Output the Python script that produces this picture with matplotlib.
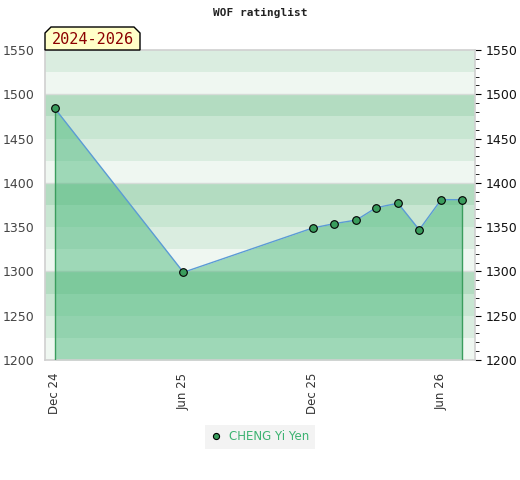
import matplotlib.pyplot as plt
import matplotlib.dates as mdates
from matplotlib.patches import Polygon
from matplotlib.ticker import MultipleLocator
from datetime import datetime

# Rating history (monthly lists)
dates = ['2024-12-01', '2025-06-01', '2025-12-01', '2026-01-01', '2026-02-01',
         '2026-03-01', '2026-04-01', '2026-05-01', '2026-06-01', '2026-07-01']
ratings = [1484, 1299, 1349, 1354, 1358, 1372, 1377, 1347, 1381, 1381]
tick_dates = ['2024-12-01', '2025-06-01', '2025-12-01', '2026-06-01']
player = 'CHENG Yi Yen'
title = 'WOF ratinglist'
period = '2024-2026'

# band colours inside every 100 points, bottom quarter to top quarter
band_colors = ['#eff7f1', '#daede0', '#c8e6d2', '#b3dcc1']

x = [datetime.strptime(d, '%Y-%m-%d') for d in dates]
xt = [datetime.strptime(d, '%Y-%m-%d') for d in tick_dates]

fig = plt.figure(figsize=(5.2, 4.8), dpi=100)
ax = fig.add_axes([45/520, 1-360/480, 430/520, 310/480])

y_min, y_max = 1200, 1550
for lo in range(y_min, y_max, 25):
    ax.axhspan(lo, lo+25, color=band_colors[(lo // 25) % 4], lw=0, zorder=0)
for h in range(1300, y_max, 100):
    ax.axhline(h, color='#d6dcd8', lw=1, zorder=1)

# filled area under the rating line
ax.fill_between(x, ratings, y_min, color='#3cb371', alpha=0.45, lw=0, zorder=2)
ax.vlines([x[0], x[-1]], y_min, [ratings[0], ratings[-1]], color='#3a9d5d', lw=1, zorder=3)
ax.plot(x, ratings, color='#5b9bd5', lw=1.0, zorder=4)
ax.plot(x, ratings, 'o', color='#3a9d5d', mec='black', mew=0.8, ms=5.5, zorder=5,
        label=player)

ax.set_xlim(datetime(2024, 11, 17), datetime(2026, 7, 19))
ax.set_ylim(y_min, y_max)

ax.set_xticks(xt)
ax.xaxis.set_major_formatter(mdates.DateFormatter('%b %y'))
ax.tick_params(axis='x', length=0, rotation=90, labelsize=8.5, labelcolor='#333333', pad=9)

ax.yaxis.set_major_locator(MultipleLocator(50))
ax.yaxis.set_minor_locator(MultipleLocator(10))
ax.tick_params(axis='y', which='both', left=False, right=True, labelleft=True,
               labelright=True, labelsize=9, direction='out')
ax.tick_params(axis='y', which='major', length=4)
ax.tick_params(axis='y', which='minor', length=3)
for lab in ax.yaxis.get_ticklabels():
    lab.set_color('#444444')
for tk in ax.yaxis.get_major_ticks():
    tk.label2.set_color('#111111')

for s in ax.spines.values():
    s.set_color('#d0d0d0')
    s.set_linewidth(1.2)

fig.text(0.5, 1-13/480, title, ha='center', va='center', family='DejaVu Sans Mono',
         fontsize=8, fontweight='bold', color='#222222')

# period label box with cut corners
bx0, bx1, by0, by1, c = 45, 140, 430, 453, 6
pts = [(bx0, by0), (bx1, by0), (bx1, by1-c), (bx1-c, by1), (bx0+c, by1), (bx0, by1-c)]
fig.patches.append(Polygon([(px/520, py/480) for px, py in pts], closed=True,
                           transform=fig.transFigure, facecolor='#ffffc8',
                           edgecolor='black', lw=1, zorder=10))
fig.text((bx0+bx1)/2/520, (by0+by1)/2/480 - 0.002, period, ha='center', va='center',
         family='DejaVu Sans Mono', fontsize=11, color='#8b0000', zorder=11)

leg = fig.legend(loc='center', bbox_to_anchor=(260/520, 1-437/480), frameon=True,
                 fontsize=8.5, handlelength=1, handletextpad=0.6, borderpad=0.45,
                 markerscale=0.8)
leg.get_frame().set_facecolor('#f0f0f0')
leg.get_frame().set_edgecolor('none')
leg.get_frame().set_boxstyle('square', pad=0)
for t in leg.get_texts():
    t.set_color('#3cb371')

fig.savefig('out.png', dpi=100)
